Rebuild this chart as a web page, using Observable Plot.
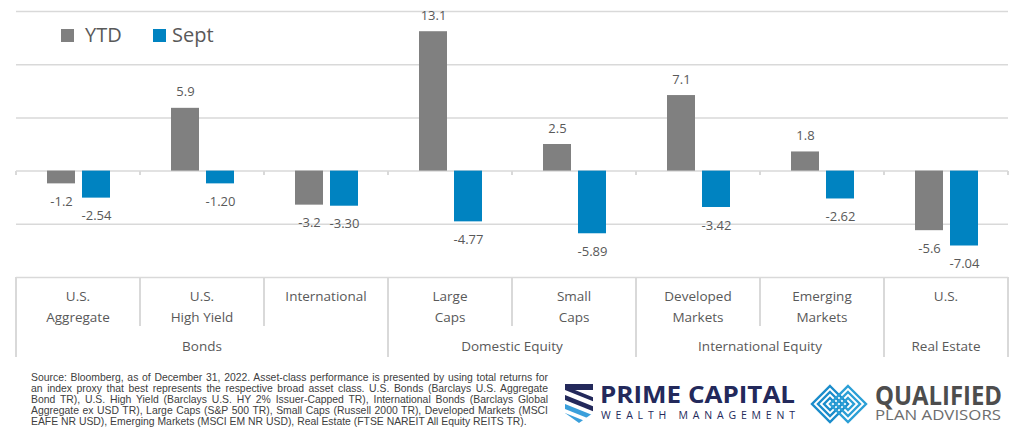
<!DOCTYPE html>
<html><head><meta charset="utf-8">
<script src="https://cdn.jsdelivr.net/npm/d3@7"></script>
<script src="https://cdn.jsdelivr.net/npm/@observablehq/plot@0.6"></script>
<style>
body{margin:0;background:#fff;}
#wrap{position:relative;width:1024px;height:435px;overflow:hidden;font-family:"Open Sans",sans-serif;background:#fff;}
#wrap svg.plot{position:absolute;left:0;top:0;}
.abs{position:absolute;}
.vline{position:absolute;width:2px;background:#d9d9d9;}
.cat{position:absolute;text-align:center;white-space:pre;font-size:13.5px;line-height:21px;color:#595959;}
.leg{position:absolute;font-size:20px;line-height:24px;color:#595959;}
.sw{position:absolute;width:13px;height:13px;}
#foot{position:absolute;left:31px;top:371.5px;width:517px;font-family:"Liberation Sans",Arial,sans-serif;font-size:10.4px;line-height:11px;color:#404040;}
#foot div{text-align:justify;text-align-last:justify;white-space:nowrap;}
#foot div.last{text-align-last:left;}
</style></head><body><div id="wrap"></div><script>
const categories = ["U.S.\nAggregate","U.S.\nHigh Yield","International","Large\nCaps","Small\nCaps","Developed\nMarkets","Emerging\nMarkets","U.S."];
const groups = ["Bonds","Bonds","Bonds","Domestic Equity","Domestic Equity","International Equity","International Equity","Real Estate"];
const series = ["YTD","Sept"];
const seriesColors = ["#808080","#0083c1"];
const ytd = [-1.2, 5.9, -3.2, 13.1, 2.5, 7.1, 1.8, -5.6];
const sept = [-2.54, -1.20, -3.30, -4.77, -5.89, -3.42, -2.62, -7.04];
const ytdDecimals = 1, septDecimals = 2;
const yTicks = [-10, -5, 0, 5, 10, 15];
const footLines = [
 "Source: Bloomberg, as of December 31, 2022. Asset-class performance is presented by using total returns for",
 "an index proxy that best represents the respective broad asset class. U.S. Bonds (Barclays U.S. Aggregate",
 "Bond TR), U.S. High Yield (Barclays U.S. HY 2% Issuer-Capped TR), International Bonds (Barclays Global",
 "Aggregate ex USD TR), Large Caps (S&P 500 TR), Small Caps (Russell 2000 TR), Developed Markets (MSCI",
 "EAFE NR USD), Emerging Markets (MSCI EM NR USD), Real Estate (FTSE NAREIT All Equity REITS TR)."
];

const fmt = (v, n) => v.toFixed(n);
const rows = [];
categories.forEach((c, i) => {
  rows.push({cat: c, series: "YTD", value: ytd[i], label: fmt(ytd[i], ytdDecimals)});
  rows.push({cat: c, series: "Sept", value: sept[i], label: fmt(sept[i], septDecimals)});
});

const textStyle = {fontSize: 13, fontFamily: "Open Sans", fill: "#595959", fontWeight: 500, lineAnchor: "middle"};
const chart = Plot.plot({
  width: 1024, height: 279,
  marginTop: 11, marginBottom: 2, marginLeft: 16, marginRight: 16,
  fx: {domain: categories, padding: 0, axis: null},
  x: {domain: series, paddingInner: 0.2, paddingOuter: 0.87, axis: null},
  y: {domain: [-10, 15], axis: null},
  color: {domain: series, range: seriesColors},
  style: {background: "transparent"},
  marks: [
    Plot.ruleY(yTicks, {stroke: "#d9d9d9", strokeWidth: 1.5}),
    Plot.barY(rows, {fx: "cat", x: "series", y: "value", fill: "series"}),
    Plot.text(rows.filter(d => d.value >= 0), {fx: "cat", x: "series", y: "value", text: "label", dy: -16, ...textStyle}),
    Plot.text(rows.filter(d => d.value < 0), {fx: "cat", x: "series", y: "value", text: "label", dy: 18, ...textStyle})
  ]
});
chart.classList.add("plot");
const wrap = document.getElementById("wrap");
wrap.appendChild(chart);

const fxs = chart.scale("fx"), ys = chart.scale("y");
const bw = fxs.bandwidth;
const y0 = ys.apply(0), yBottom = ys.apply(yTicks[0]);
const lefts = categories.map(c => fxs.apply(c));
const edges = [...lefts, lefts[lefts.length - 1] + bw];

function add(html){ const t = document.createElement("div"); t.innerHTML = html; const el = t.firstChild; wrap.appendChild(el); return el; }

// zero-line ticks and category box dividers
edges.forEach((x, i) => {
  add(`<div class="vline" style="left:${x-1}px;top:${y0}px;height:4px;width:1.5px"></div>`);
  const groupEdge = i === 0 || i === categories.length || groups[i] !== groups[i-1];
  add(`<div class="vline" style="left:${x-1}px;top:${yBottom}px;height:${groupEdge?80:49}px"></div>`);
});
categories.forEach((c, i) => {
  add(`<div class="cat" style="left:${lefts[i]}px;width:${bw}px;top:${yBottom+8.5}px">${c}</div>`);
});
const uniqueGroups = [...new Set(groups)];
uniqueGroups.forEach(g => {
  const idx = groups.map((d, i) => d === g ? i : -1).filter(i => i >= 0);
  const l = lefts[idx[0]], r = lefts[idx[idx.length-1]] + bw;
  add(`<div class="cat" style="left:${l}px;width:${r-l}px;top:${yBottom+58.5}px">${g}</div>`);
});

// legend
add(`<div class="sw" style="left:61px;top:29px;background:${seriesColors[0]}"></div>`);
add(`<div class="leg" style="left:85px;top:23px">${series[0]}</div>`);
add(`<div class="sw" style="left:153px;top:29px;background:${seriesColors[1]}"></div>`);
add(`<div class="leg" style="left:172px;top:23px">${series[1]}</div>`);

// footnote
const foot = add(`<div id="foot">${footLines.map((l, i) => `<div class="${i===footLines.length-1?'last':''}"><span>${l.replace(/&/g,'&amp;')}</span></div>`).join("")}</div>`);
foot.querySelectorAll("div").forEach(d => {
  const sp = d.querySelector("span");
  const w = sp.getBoundingClientRect().width;
  if (w > 517) sp.style.letterSpacing = ((517 - w) / sp.textContent.length) + "px";
});

// logos
add(`<svg class="abs" style="left:0;top:0" width="1024" height="435" viewBox="0 0 1024 435">
<defs><clipPath id="shield"><path d="M565,384 L593,384 L593,413 L579,423 L565,413 Z"/></clipPath></defs>
<g clip-path="url(#shield)">
 <rect x="560" y="380" width="40" height="50" fill="#fff"/>
 <path d="M560,384 L600,384 L600,390 L575,390 L600,400 L600,404 L560,388 Z" fill="#23295b"/>
 <path d="M560,393 L600,409 L600,414 L560,398 Z" fill="#23295b"/>
 <path d="M560,402 L600,418 L600,423 L560,407 Z" fill="#3a9fdb"/>
 <path d="M560,411 L600,427 L600,432 L560,416 Z" fill="#3a9fdb"/>
</g>
<text font-family="Open Sans" fill="#23295b"><tspan x="600" y="402.5" font-weight="700" font-size="22.5" textLength="195" lengthAdjust="spacingAndGlyphs">PRIME CAPITAL</tspan><tspan x="601" y="419" font-weight="400" font-size="10.5" textLength="194" lengthAdjust="spacing">WEALTH MANAGEMENT</tspan></text>
<g fill="none" stroke-width="2.4">
 <g stroke="#1a8ccb"><path d="M826,386 L844,404 L826,422 L808,404 Z" transform="translate(4,0)"/><path d="M830,392 L842,404 L830,416 L818,404 Z"/><path d="M830,398 L836,404 L830,410 L824,404 Z"/></g>
 <g stroke="#2b9fd6"><path d="M852,386 L870,404 L852,422 L834,404 Z" transform="translate(-4,0)"/><path d="M848,392 L860,404 L848,416 L836,404 Z"/><path d="M848,398 L854,404 L848,410 L842,404 Z"/></g>
</g>
<text font-family="Open Sans"><tspan x="875" y="405" font-weight="700" font-size="26" fill="#4d4d4d" textLength="127" lengthAdjust="spacingAndGlyphs">QUALIFIED</tspan><tspan x="875" y="419.5" font-weight="400" font-size="14.5" fill="#6d6d6d" textLength="126" lengthAdjust="spacingAndGlyphs">PLAN ADVISORS</tspan></text>
</svg>`);
</script></body></html>
